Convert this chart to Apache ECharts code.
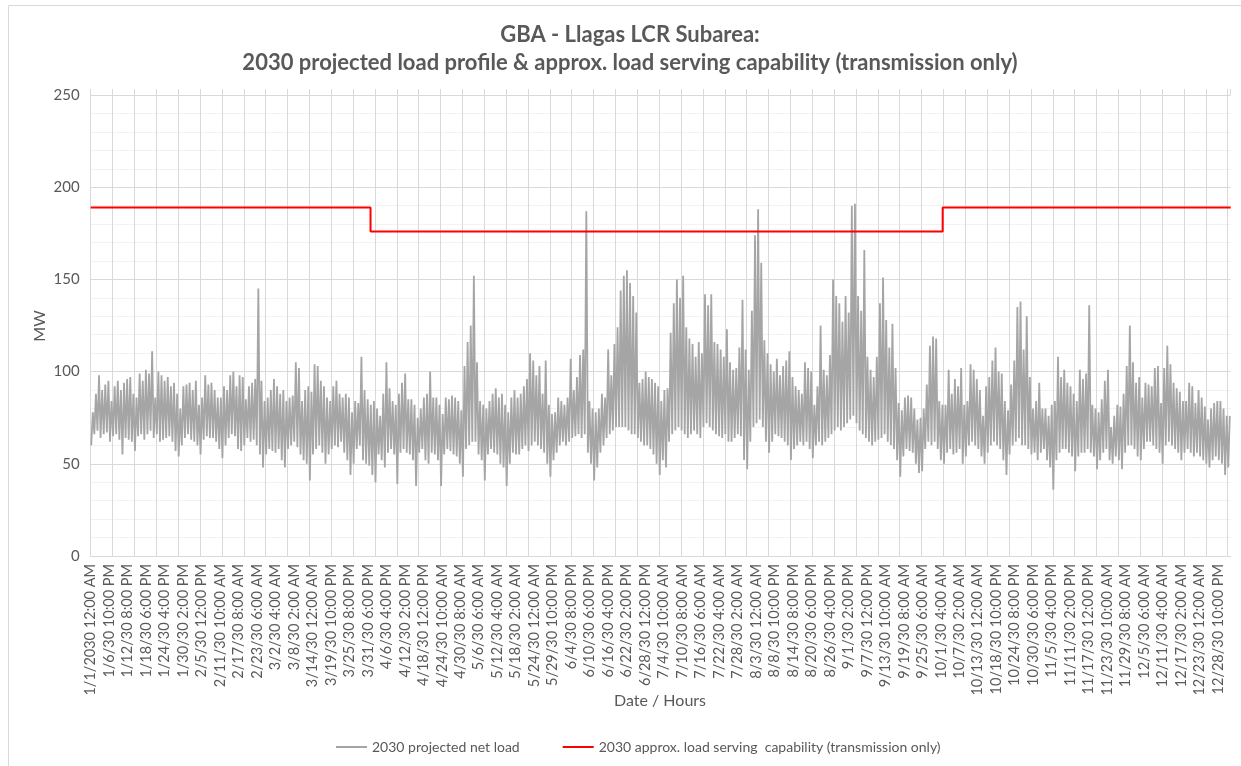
<!DOCTYPE html>
<html>
<head>
<meta charset="utf-8">
<script src="https://cdn.jsdelivr.net/npm/echarts@6/dist/echarts.min.js"></script>
<style>
html,body{margin:0;padding:0;background:#fff;}
#chart{width:1241px;height:766px;}
</style>
</head>
<body>
<div id="chart"></div>
<script>
// ---- tick labels (one every 142 hours) ----
const tickLabels = [
"1/1/2030 12:00 AM","1/6/30 10:00 PM","1/12/30 8:00 PM","1/18/30 6:00 PM","1/24/30 4:00 PM",
"1/30/30 2:00 PM","2/5/30 12:00 PM","2/11/30 10:00 AM","2/17/30 8:00 AM","2/23/30 6:00 AM",
"3/2/30 4:00 AM","3/8/30 2:00 AM","3/14/30 12:00 AM","3/19/30 10:00 PM","3/25/30 8:00 PM",
"3/31/30 6:00 PM","4/6/30 4:00 PM","4/12/30 2:00 PM","4/18/30 12:00 PM","4/24/30 10:00 AM",
"4/30/30 8:00 AM","5/6/30 6:00 AM","5/12/30 4:00 AM","5/18/30 2:00 AM","5/24/30 12:00 AM",
"5/29/30 10:00 PM","6/4/30 8:00 PM","6/10/30 6:00 PM","6/16/30 4:00 PM","6/22/30 2:00 PM",
"6/28/30 12:00 PM","7/4/30 10:00 AM","7/10/30 8:00 AM","7/16/30 6:00 AM","7/22/30 4:00 AM",
"7/28/30 2:00 AM","8/3/30 12:00 AM","8/8/30 10:00 PM","8/14/30 8:00 PM","8/20/30 6:00 PM",
"8/26/30 4:00 PM","9/1/30 2:00 PM","9/7/30 12:00 PM","9/13/30 10:00 AM","9/19/30 8:00 AM",
"9/25/30 6:00 AM","10/1/30 4:00 AM","10/7/30 2:00 AM","10/13/30 12:00 AM","10/18/30 10:00 PM",
"10/24/30 8:00 PM","10/30/30 6:00 PM","11/5/30 4:00 PM","11/11/30 2:00 PM","11/17/30 12:00 PM",
"11/23/30 10:00 AM","11/29/30 8:00 AM","12/5/30 6:00 AM","12/11/30 4:00 AM","12/17/30 2:00 AM",
"12/23/30 12:00 AM","12/28/30 10:00 PM"
];
const labelStepHours = 142;
const gridStepHours = 168;
const lastHour = 8759;

// ---- 2030 projected net load: daily peak and daily low (MW) ----
const dailyPeakMW = [
78,88,98,90,93,95,84,92,95,90,
94,96,97,88,86,99,95,101,99,111,
86,100,98,95,97,92,94,88,80,92,
93,94,90,95,82,86,98,93,94,90,
86,86,92,90,98,100,92,98,97,85,
92,94,96,145,95,84,86,90,96,92,
88,90,84,86,87,105,102,84,90,92,
89,104,103,95,92,86,84,92,95,88,
86,88,86,78,84,83,108,90,85,82,
84,80,76,88,105,91,84,82,88,94,
99,85,85,82,75,80,86,88,100,86,
86,82,77,86,85,87,86,84,79,103,
116,125,152,105,84,82,80,84,88,91,
86,88,82,78,86,90,86,88,92,96,
110,106,98,103,88,106,82,77,78,86,
84,82,86,107,90,97,109,112,187,84,
80,78,80,88,86,112,98,115,124,144,
152,155,148,141,132,94,96,100,97,96,
94,92,84,90,91,121,137,150,140,152,
124,118,115,108,116,110,142,136,142,116,
115,112,108,123,105,101,102,113,139,112,
101,133,174,188,159,117,110,104,100,107,
98,103,106,111,97,92,90,88,105,102,
100,82,92,125,101,98,109,150,141,137,
127,141,132,190,191,141,133,166,108,101,
97,108,137,151,128,113,126,102,83,79,
86,87,86,80,74,75,80,93,114,119,
118,84,82,82,101,88,96,92,102,82,
84,104,101,96,90,76,92,97,106,113,
100,99,84,79,93,106,135,138,112,130,
97,80,84,94,80,80,76,82,84,108,
97,101,94,92,88,84,101,96,99,136,
82,80,78,85,95,101,70,76,82,81,
88,103,125,105,94,97,86,94,93,92,
102,103,83,102,114,104,94,91,89,84,
84,94,92,83,90,86,81,74,80,83,
84,84,80,76,76
];
const dailyLowMW = [
60,66,68,64,66,67,62,65,66,63,
55,64,63,62,57,65,66,63,66,68,
64,66,62,63,64,65,62,57,54,60,
64,66,63,62,60,55,63,65,64,64,
62,58,53,60,64,66,65,58,57,60,
64,62,63,60,55,48,55,58,57,56,
58,52,48,58,60,62,59,55,52,50,
41,55,58,60,56,50,55,58,60,59,
62,56,52,44,50,58,60,52,50,49,
44,40,55,52,48,56,58,55,39,56,
58,56,55,52,38,56,58,52,50,56,
55,52,38,55,58,57,55,54,50,43,
58,60,62,62,55,52,41,55,58,56,
55,50,48,38,50,56,55,55,58,60,
57,60,62,60,58,56,50,43,52,56,
60,62,60,62,64,65,66,64,66,56,
50,41,48,56,60,64,66,68,70,70,
70,70,68,66,66,64,62,60,60,58,
55,50,44,52,48,62,66,68,70,68,
66,64,66,68,66,64,70,72,70,68,
66,65,64,66,62,62,64,66,65,52,
47,62,70,72,74,70,62,56,62,66,
65,64,62,60,52,58,60,62,60,62,
58,53,60,62,60,62,64,66,68,70,
68,70,72,74,76,72,68,66,64,62,
60,62,63,64,66,62,60,58,52,43,
54,58,57,56,50,45,46,58,62,60,
62,58,52,50,56,58,55,56,58,50,
54,60,62,60,58,54,50,56,60,62,
60,58,52,44,55,60,62,64,60,60,
58,55,56,52,56,58,52,48,36,52,
56,58,58,56,54,46,54,56,56,58,
56,54,47,52,56,58,52,50,54,52,
47,56,60,60,58,54,52,58,62,62,
60,58,56,50,60,62,60,58,56,52,
56,58,56,54,56,54,52,50,48,52,
54,52,50,44,48
];
const lowHourOfDay = 4;
const peakHourOfDay = 16;

// ---- 2030 approx. load serving capability (MW), with the hour each level starts ----
const capStartHours = [0, 2150, 6546];
const capLevelsMW = [189, 176, 189];

// ---- build series data ----
const loadData = [];
for (let d = 0; d < dailyPeakMW.length; d++) {
  loadData.push([d * 24 + lowHourOfDay, dailyLowMW[d]]);
  loadData.push([d * 24 + peakHourOfDay, dailyPeakMW[d]]);
}
const capData = capStartHours.map((h, i) => [h, capLevelsMW[i]]);
capData.push([lastHour, capLevelsMW[capLevelsMW.length - 1]]);

const FONT = 'Lato, "Open Sans", "Liberation Sans", sans-serif';
const TXT = '#595959';
const GRID = '#d9d9d9';

const chart = echarts.init(document.getElementById('chart'), null, {renderer: 'canvas'});
chart.setOption({
  animation: false,
  backgroundColor: '#ffffff',
  graphic: [
    {type: 'rect', silent: true, shape: {x: 8.5, y: 5.5, width: 1240, height: 770},
     style: {fill: 'none', stroke: GRID, lineWidth: 1}},
    {type: 'text', x: 630, y: 35, silent: true,
     style: {text: 'GBA - Llagas LCR Subarea:', font: 'bold 22px ' + FONT, fill: TXT,
             textAlign: 'center', textVerticalAlign: 'middle', align: 'center', verticalAlign: 'middle'}},
    {type: 'text', x: 630, y: 63, silent: true,
     style: {text: '2030 projected load profile & approx. load serving capability (transmission only)',
             font: 'bold 22px ' + FONT, fill: TXT,
             textAlign: 'center', textVerticalAlign: 'middle', align: 'center', verticalAlign: 'middle'}},
    {type: 'text', x: 660, y: 701, silent: true,
     style: {text: 'Date / Hours', font: '16px ' + FONT, fill: TXT,
             textAlign: 'center', textVerticalAlign: 'middle', align: 'center', verticalAlign: 'middle'}},
    {type: 'text', x: 40, y: 326, rotation: Math.PI / 2, silent: true,
     style: {text: 'MW', font: '16px ' + FONT, fill: TXT,
             textAlign: 'center', textVerticalAlign: 'middle', align: 'center', verticalAlign: 'middle'}}
  ],
  legend: {
    left: 331, top: 735,
    icon: 'rect', itemWidth: 31, itemHeight: 2, itemGap: 43,
    textStyle: {fontFamily: FONT, fontSize: 14, color: TXT},
    data: ['2030 projected net load', '2030 approx. load serving  capability (transmission only)']
  },
  grid: {left: 90.7, right: 10.3, top: 95, bottom: 210, containLabel: false},
  xAxis: [
    {
      type: 'value', min: 0, max: lastHour, interval: labelStepHours,
      axisLine: {show: true, lineStyle: {color: GRID, width: 1}},
      axisTick: {show: false},
      splitLine: {show: false},
      axisLabel: {
        rotate: 90, margin: 8, fontFamily: FONT, fontSize: 14.5, color: TXT,
        showMinLabel: true, showMaxLabel: true,
        formatter: function (v) {
          const k = Math.round(v / labelStepHours);
          return (Math.abs(v - k * labelStepHours) < 0.01 && tickLabels[k]) ? tickLabels[k] : '';
        }
      }
    },
    {
      type: 'value', min: 0, max: lastHour, interval: gridStepHours,
      axisLine: {show: false},
      axisTick: {show: true, length: 6, lineStyle: {color: GRID}},
      axisLabel: {show: false},
      splitLine: {show: true, showMaxLine: false, lineStyle: {color: GRID, width: 1}}
    }
  ],
  yAxis: {
    type: 'value', min: 0, max: 250, interval: 50,
    axisLine: {show: false},
    axisTick: {show: false},
    axisLabel: {margin: 11, fontFamily: FONT, fontSize: 15, color: TXT},
    splitLine: {show: true, lineStyle: {color: GRID, width: 1}},
    minorTick: {show: false, splitNumber: 5},
    minorSplitLine: {show: true, lineStyle: {color: '#f2f2f2', width: 1}}
  },
  series: [
    {
      name: '2030 projected net load', type: 'line', xAxisIndex: 0,
      data: loadData, symbol: 'none', showSymbol: false, z: 2,
      color: '#a5a5a5',
      lineStyle: {color: '#a5a5a5', width: 1.8},
      itemStyle: {color: '#a5a5a5'}
    },
    {
      name: '2030 approx. load serving  capability (transmission only)', type: 'line', xAxisIndex: 0,
      data: capData, step: 'end', symbol: 'none', showSymbol: false, z: 3,
      color: '#ff0000',
      lineStyle: {color: '#ff0000', width: 2},
      itemStyle: {color: '#ff0000'}
    }
  ]
});
</script>
</body>
</html>
